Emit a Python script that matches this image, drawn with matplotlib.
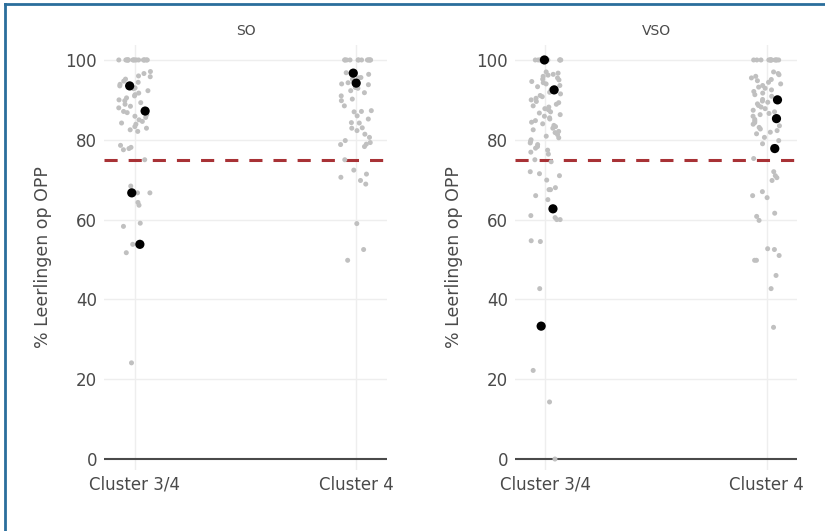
import numpy as np
import matplotlib
matplotlib.use("Agg")
import matplotlib.pyplot as plt
from matplotlib.lines import Line2D

# ---------------- data ----------------
categories = ["Cluster 3/4", "Cluster 4"]
panel_titles = ["SO", "VSO"]
threshold = 75
y_ticks = [0, 20, 40, 60, 80, 100]

so_c34_gray = [100] * 16 + [
    97.1, 96.6, 96.0, 95.8, 95.2, 94.7, 94.4, 93.9, 93.5, 93.0, 92.8, 92.3,
    91.7, 91.3, 91.0, 90.5, 90.0, 89.8, 89.3, 88.9, 88.4, 88.0, 87.5, 87.1,
    86.8, 86.3, 85.9, 85.6, 85.0, 84.6, 84.2, 83.9, 83.3, 82.9, 82.5, 82.1,
    78.6, 78.1, 77.8, 77.5, 75.0, 68.4, 66.7, 66.7, 64.3, 63.6, 59.1, 58.3,
    53.8, 51.7, 24.1]
so_c34_black = [93.5, 87.2, 66.7, 53.8]

so_c4_gray = [100] * 12 + [
    96.8, 96.4, 95.6, 95.5, 95.2, 94.8, 94.3, 94.0, 93.8, 93.1, 92.9, 92.3,
    91.8, 91.0, 90.2, 89.8, 88.5, 87.3, 87.1, 87.0, 86.0, 85.2, 84.3, 84.2,
    83.0, 82.9, 82.3, 81.4, 80.6, 79.8, 79.3, 78.8, 78.3, 78.9, 75.0, 72.4,
    71.4, 70.6, 69.8, 68.9, 59.0, 52.5, 49.8]
so_c4_black = [96.7, 94.2]

vso_c34_gray = [100] * 10 + [
    97.0, 96.7, 96.4, 96.2, 95.9, 95.5, 95.2, 95.0, 94.6, 94.3, 94.0, 93.6,
    93.3, 93.0, 92.6, 92.2, 91.9, 91.5, 91.1, 90.8, 90.4, 90.0, 89.6, 89.3,
    88.9, 88.5, 88.2, 87.8, 87.5, 87.0, 86.7, 86.3, 85.9, 85.5, 85.2, 84.8,
    84.4, 84.0, 83.6, 83.3, 82.9, 82.5, 82.1, 81.8, 81.3, 80.9, 80.5, 80.0,
    79.6, 79.2, 78.8, 78.3, 77.9, 77.4, 76.9, 76.4,
    75.0, 74.5, 72.0, 71.5, 71.0, 69.9, 68.0, 67.5, 67.5, 66.0, 65.0, 61.0,
    60.5, 60.0, 60.0, 54.7, 54.5, 42.7, 22.2, 14.3, 0.0]
vso_c34_black = [100, 92.5, 62.7, 33.3]

vso_c4_gray = [100] * 12 + [
    97.0, 96.6, 96.3, 95.9, 95.5, 95.1, 94.8, 94.4, 94.0, 93.6, 93.2, 92.9,
    92.5, 92.1, 91.7, 91.3, 90.9, 90.5, 90.1, 89.7, 89.4, 89.0, 88.6, 88.2,
    87.8, 87.4, 87.0, 86.6, 86.3, 85.9, 85.5, 85.1, 84.7, 84.3, 83.9, 83.5,
    83.1, 82.7, 82.3, 81.9, 81.5, 80.6, 79.8, 79.0, 78.3,
    75.3, 72.0, 71.0, 70.5, 69.8, 67.0, 66.0, 65.5, 61.6, 60.8, 59.8, 52.7,
    52.5, 51.0, 49.8, 49.8, 46.0, 42.7, 33.0]
vso_c4_black = [90.0, 85.3, 77.8]

panels = [
    [(so_c34_gray, so_c34_black), (so_c4_gray, so_c4_black)],
    [(vso_c34_gray, vso_c34_black), (vso_c4_gray, vso_c4_black)],
]

# ---------------- style ----------------
GRAY = "#c0c0c0"
TXT = "#4a4a4a"
GRID = "#eeeeee"
RED = "#a83236"

fig = plt.figure(figsize=(8.25, 5.31), dpi=100)
fig.patch.set_facecolor("white")

W, H = 825, 531
boxes = [(104, 387), (515, 797)]
top_px, bot_px = 45, 470

rng = np.random.default_rng(7)

for pi, ((x0, x1), title) in enumerate(zip(boxes, panel_titles)):
    ax = fig.add_axes([x0 / W, 1 - bot_px / H, (x1 - x0) / W, (bot_px - top_px) / H])
    ax.set_xlim(-0.138, 1.138)
    ax.set_ylim(-2.75, 103.75)
    for s in ax.spines.values():
        s.set_visible(False)
    # grid
    for yt in y_ticks[1:]:
        ax.axhline(yt, color=GRID, lw=1, zorder=0)
    for xi in range(len(categories)):
        ax.axvline(xi, color=GRID, lw=1, zorder=0)
    ax.axhline(0, color=TXT, lw=1.5, zorder=1)
    ax.axhline(threshold, color=RED, lw=2.2, linestyle=(0, (4.3, 3.6)), zorder=2)

    for ci, (gray_vals, black_vals) in enumerate(panels[pi]):
        g = np.array(gray_vals, dtype=float)
        b = np.array(black_vals, dtype=float)
        gx = ci + rng.uniform(-0.072, 0.072, size=len(g))
        bx = ci + rng.uniform(-0.03, 0.05, size=len(b))
        ax.scatter(gx, g, s=13, color=GRAY, edgecolors="none", zorder=3)
        ax.scatter(bx, b, s=44, color="black", edgecolors="none", zorder=4)

    ax.set_xticks(range(len(categories)))
    ax.set_xticklabels(categories)
    ax.set_yticks(y_ticks)
    ax.tick_params(axis="both", length=0, labelsize=12, colors=TXT)
    ax.tick_params(axis="y", pad=5)
    ax.tick_params(axis="x", pad=4)
    ax.set_ylabel("% Leerlingen op OPP", fontsize=12.5, color=TXT, labelpad=10)
    ax.set_title(title, fontsize=10, color=TXT, pad=7)

# outer frame (left and top edges)
fig.add_artist(Line2D([5 / W, 5 / W], [0, 1 - 4 / H], transform=fig.transFigure,
                      color="#2a6e9c", lw=2))
fig.add_artist(Line2D([5 / W, 1], [1 - 4 / H, 1 - 4 / H], transform=fig.transFigure,
                      color="#2a6e9c", lw=2))

fig.savefig("out.png", dpi=100)
